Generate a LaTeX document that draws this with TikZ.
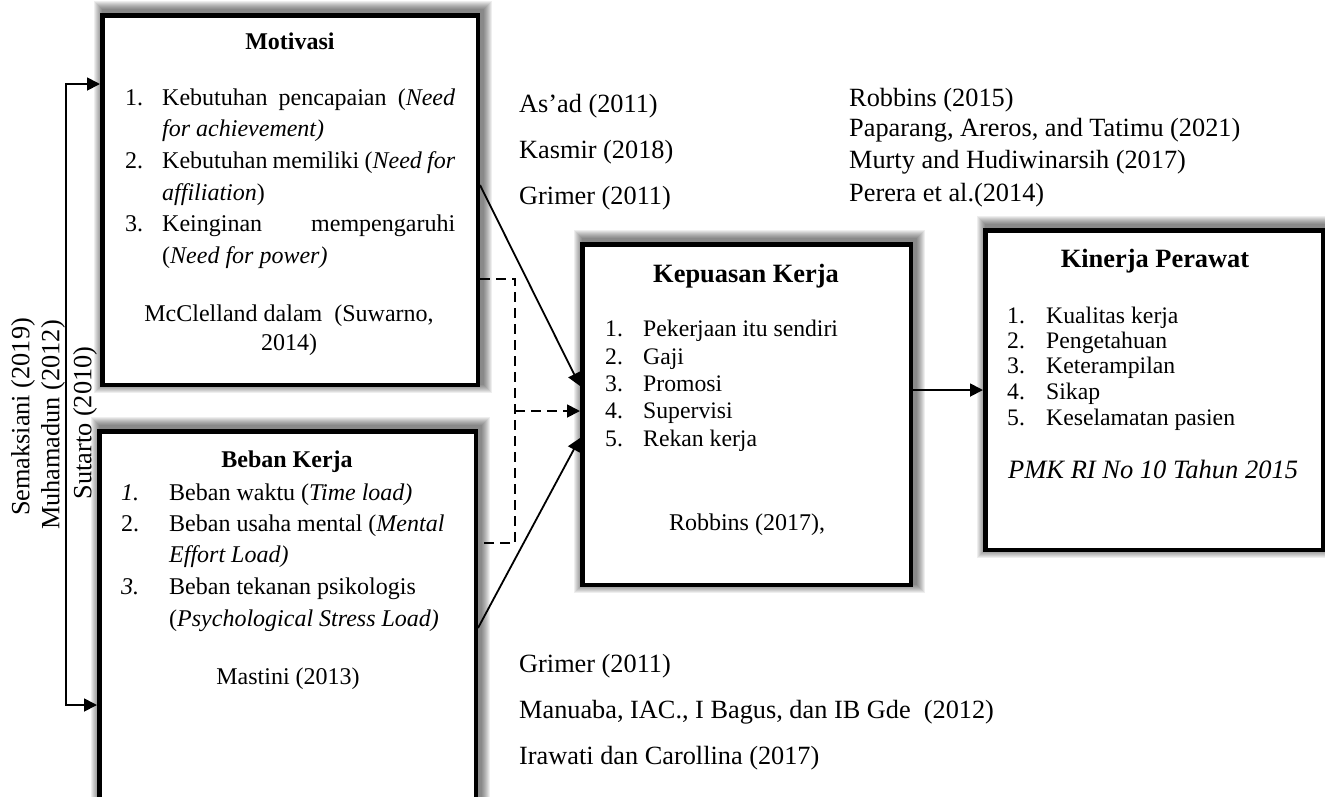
\documentclass[tikz,border=0pt]{standalone}
\usepackage{fontspec}
\setmainfont{Liberation Serif}
\usetikzlibrary{arrows.meta}
\pgfdeclarelayer{bg}
\pgfsetlayers{bg,main}
\newcommand\boxshadow[1]{%
  \foreach \k in {1,...,9}{%
    \fill[black,opacity=0.065] ([shift={(3-\k,\k-3)}]#1.south west) rectangle ([shift={(3+\k,-3-\k)}]#1.north east);
  }}
\tikzset{
  box/.style={draw, line width=4.5pt, fill=white, inner sep=0pt},
  cite/.style={anchor=base west, inner sep=0pt, font=\fontsize{26.3}{30}\selectfont},
  itm/.style={anchor=base west, inner sep=0pt, font=\fontsize{24}{28}\selectfont},
  ctr/.style={anchor=base, inner sep=0pt, font=\fontsize{24}{28}\selectfont},
  kitm/.style={anchor=base west, inner sep=0pt, font=\fontsize{23.7}{28}\selectfont},
  ttl/.style={anchor=base, inner sep=0pt, font=\fontsize{24}{28}\selectfont\bfseries},
  bigttl/.style={anchor=base, inner sep=0pt, font=\fontsize{26.4}{30}\selectfont\bfseries},
  tip/.tip={Triangle[length=13pt,width=13pt]},
  conn/.style={line width=1.8pt, -tip},
  dashl/.style={line width=1.8pt, dash pattern=on 10pt off 6pt},
  vtext/.style={rotate=90, inner sep=0pt, font=\fontsize{26.3}{30}\selectfont},
}
\begin{document}
\begin{tikzpicture}[x=1pt,y=-1pt]
\useasboundingbox (0,0) rectangle (1325,796);
\clip (0,0) rectangle (1325,796);

% boxes
\node[box, minimum width=375.5pt, minimum height=369.5pt] (mot) at (290,200) {};
\node[box, minimum width=376.5pt, minimum height=388pt] (beb) at (287.5,625.6) {};
\node[box, minimum width=328.5pt, minimum height=340.5pt] (kep) at (746.5,414.5) {};
\node[box, minimum width=337.5pt, minimum height=319.5pt] (kin) at (1154,390) {};
\begin{pgfonlayer}{bg}
\boxshadow{mot}\boxshadow{beb}\boxshadow{kep}\boxshadow{kin}
\end{pgfonlayer}

% Motivasi
\node[ttl] (motT) at (290,49) {Motivasi};
\node[itm] (m1n) at (125,105) {1.};
\node[itm] (m1a) at (162,105) {\makebox[293pt][s]{Kebutuhan pencapaian (\textit{Need}}};
\node[itm] (m1b) at (162,136) {\textit{for achievement)}};
\node[itm] (m2n) at (125,168) {2.};
\node[itm] (m2a) at (162,168) {\makebox[293pt][s]{Kebutuhan memiliki (\textit{Need for}}};
\node[itm] (m2b) at (162,200) {\textit{affiliation})};
\node[itm] (m3n) at (125,231) {3.};
\node[itm] (m3a) at (162,231) {\makebox[293pt][s]{Keinginan mempengaruhi}};
\node[itm] (m3b) at (162,263) {(\textit{Need for power)}};
\node[ctr] (mc1) at (289,321) {McClelland dalam\ \ (Suwarno,};
\node[ctr] (mc2) at (289,350) {2014)};

% Beban Kerja
\node[ttl] (bebT) at (287,467) {Beban Kerja};
\node[itm] (b1n) at (121,500) {\textit{1.}};
\node[itm] (b1a) at (169,500) {Beban waktu (\textit{Time load)}};
\node[itm] (b2n) at (121,531) {2.};
\node[itm] (b2a) at (169,531) {Beban usaha mental (\textit{Mental}};
\node[itm] (b2b) at (169,562) {\textit{Effort Load)}};
\node[itm] (b3n) at (121,594) {\textit{3.}};
\node[itm] (b3a) at (169,594) {Beban tekanan psikologis};
\node[itm] (b3b) at (169,626) {(\textit{Psychological Stress Load)}};
\node[ctr] (bc) at (288,684) {Mastini (2013)};

% Kepuasan Kerja
\node[bigttl] (kepT) at (746,282) {Kepuasan Kerja};
\node[kitm] (k1n) at (605,336) {1.};
\node[kitm] (k1a) at (643,336) {Pekerjaan itu sendiri};
\node[kitm] (k2n) at (605,364) {2.};
\node[kitm] (k2a) at (643,364) {Gaji};
\node[kitm] (k3n) at (605,391) {3.};
\node[kitm] (k3a) at (643,391) {Promosi};
\node[kitm] (k4n) at (605,418) {4.};
\node[kitm] (k4a) at (643,418) {Supervisi};
\node[kitm] (k5n) at (605,446) {5.};
\node[kitm] (k5a) at (643,446) {Rekan kerja};
\node[ctr] (kc) at (747,530) {Robbins (2017),};

% Kinerja Perawat
\node[bigttl] (kinT) at (1155,267) {Kinerja Perawat};
\node[kitm] (p1n) at (1007,323) {1.};
\node[kitm] (p1a) at (1046,323) {Kualitas kerja};
\node[kitm] (p2n) at (1007,348) {2.};
\node[kitm] (p2a) at (1046,348) {Pengetahuan};
\node[kitm] (p3n) at (1007,373) {3.};
\node[kitm] (p3a) at (1046,373) {Keterampilan};
\node[kitm] (p4n) at (1007,399) {4.};
\node[kitm] (p4a) at (1046,399) {Sikap};
\node[kitm] (p5n) at (1007,425) {5.};
\node[kitm] (p5a) at (1046,425) {Keselamatan pasien};
\node[anchor=base west, inner sep=0pt, font=\fontsize{26.5}{30}\selectfont\itshape] (pmk) at (1008,478) {PMK RI No 10 Tahun 2015};

% citations
\node[cite] (c1) at (519,112) {As’ad (2011)};
\node[cite] (c2) at (519,158) {Kasmir (2018)};
\node[cite] (c3) at (519,204) {Grimer (2011)};
\node[cite] (c4) at (849,106) {Robbins (2015)};
\node[cite] (c5) at (849,136) {Paparang, Areros, and Tatimu (2021)};
\node[cite] (c6) at (849,168) {Murty and Hudiwinarsih (2017)};
\node[cite] (c7) at (849,201) {Perera et al.(2014)};
\node[cite] (c8) at (519,672) {Grimer (2011)};
\node[cite] (c9) at (519,718) {Manuaba, IAC., I Bagus, dan IB Gde\ \ (2012)};
\node[cite] (c10) at (519,764) {Irawati dan Carollina (2017)};

% rotated
\node[vtext] (r1) at (23,417) {Semaksiani (2019)};
\node[vtext] (r2) at (53,425) {Muhamadun (2012)};
\node[vtext] (r3) at (85,423) {Sutarto (2010)};

% connectors
\coordinate (bt) at (66,84);
\coordinate (bb) at (66,705);
\draw[line width=1.8pt, tip-tip] (bt -| mot.west) -- (bt) -- (bb) -- (bb -| beb.west);

\coordinate (a1) at (0,185);
\coordinate (a2) at (0,386);
\coordinate (a3) at (0,628);
\coordinate (a4) at (0,438);
\coordinate (a5) at (0,390);
\draw[conn] (mot.east |- a1) -- (kep.west |- a2);
\draw[conn] (beb.east |- a3) -- (kep.west |- a4);
\draw[conn] (kep.east |- a5) -- (kin.west |- a5);

\coordinate (d1) at (515,279);
\coordinate (d2) at (515,543);
\coordinate (dm) at (515,411);
\draw[dashl] (mot.east |- d1) -- (d1) -- (d2) -- (beb.east |- d2);
\draw[dashl, -tip] (dm) -- (kep.west |- dm);
\end{tikzpicture}
\end{document}
